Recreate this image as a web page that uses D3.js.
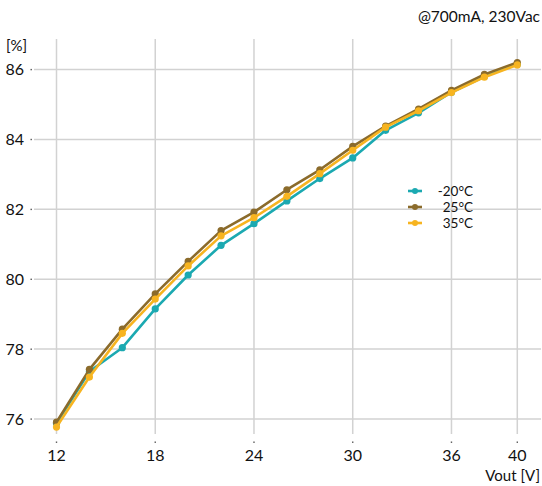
<!DOCTYPE html>
<html>
<head>
<meta charset="utf-8">
<script src="https://cdn.jsdelivr.net/npm/d3@7"></script>
<style>
  body { margin: 0; background: #fff; }
  text { font-family: Lato, "Open Sans", sans-serif; fill: #111; }
</style>
</head>
<body>
<div id="chart"></div>
<script>
"use strict";
// data
const vout = [12, 14, 16, 18, 20, 22, 24, 26, 28, 30, 32, 34, 36, 38, 40];
const effMinus20 = [75.88, 77.36, 78.04, 79.15, 80.12, 80.97, 81.59, 82.24, 82.88, 83.47, 84.26, 84.76, 85.35, 85.8, 86.15];
const eff25 = [75.91, 77.42, 78.57, 79.58, 80.51, 81.39, 81.92, 82.56, 83.13, 83.8, 84.38, 84.87, 85.4, 85.86, 86.2];
const eff35 = [75.77, 77.2, 78.45, 79.43, 80.38, 81.24, 81.76, 82.37, 83.02, 83.69, 84.35, 84.82, 85.34, 85.78, 86.13];
const seriesNames = ["-20°C", "25°C", "35°C"];
const seriesColors = ["#1ba9b1", "#8b6b2b", "#f7b420"];
const xTicks = [12, 18, 24, 30, 36, 40];
const yTicks = [76, 78, 80, 82, 84, 86];

const W = 542, H = 486;
let svg = d3.select("#chart").append("svg")
    .attr("width", W)
    .attr("height", H);

let x = d3.scaleLinear().domain([12, 40]).range([56.5, 517.3]);
let y = d3.scaleLinear().domain([76, 86]).range([419, 69.5]);

// grid
let grid = svg.append("g").attr("class", "grid");
grid.selectAll(".hline")
    .data(yTicks)
    .enter().append("line")
    .attr("x1", 34).attr("x2", 541)
    .attr("y1", d => y(d)).attr("y2", d => y(d))
    .attr("stroke", "#d2d2d2")
    .attr("stroke-width", 1.5);
grid.selectAll(".vline")
    .data(xTicks)
    .enter().append("line")
    .attr("x1", d => x(d)).attr("x2", d => x(d))
    .attr("y1", 39).attr("y2", 434)
    .attr("stroke", "#d2d2d2")
    .attr("stroke-width", 1.5);

// tick dots
grid.selectAll(".ydot")
    .data(yTicks)
    .enter().append("rect")
    .attr("x", 30.5).attr("y", d => y(d) - 0.6)
    .attr("width", 1.4).attr("height", 1.4)
    .attr("fill", "#555");
grid.selectAll(".xdot")
    .data(xTicks)
    .enter().append("rect")
    .attr("x", d => x(d) - 0.7).attr("y", 441.5)
    .attr("width", 1.4).attr("height", 1.4)
    .attr("fill", "#555");

// axis labels
svg.append("g").selectAll("text")
    .data(yTicks)
    .enter().append("text")
    .attr("x", 24)
    .attr("y", d => y(d))
    .attr("dy", "0.36em")
    .attr("text-anchor", "end")
    .style("font-size", "16px")
    .text(d => d);
svg.append("g").selectAll("text")
    .data(xTicks)
    .enter().append("text")
    .attr("x", d => x(d))
    .attr("y", 461)
    .attr("text-anchor", "middle")
    .style("font-size", "16px")
    .text(d => d);

svg.append("text")
    .attr("x", 6).attr("y", 51)
    .style("font-size", "15px")
    .text("[%]");
svg.append("text")
    .attr("x", 540).attr("y", 481)
    .attr("text-anchor", "end")
    .style("font-size", "15px")
    .text("Vout [V]");
svg.append("text")
    .attr("x", 540).attr("y", 22)
    .attr("text-anchor", "end")
    .style("font-size", "15.5px")
    .text("@700mA, 230Vac");

// series
let allSeries = [effMinus20, eff25, eff35];
let line = d3.line()
    .x((d, i) => x(vout[i]))
    .y(d => y(d));

allSeries.forEach(function (vals, k) {
    let g = svg.append("g").attr("class", "series");
    g.append("path")
        .datum(vals)
        .attr("d", line)
        .attr("fill", "none")
        .attr("stroke", seriesColors[k])
        .attr("stroke-width", 2.6)
        .attr("stroke-linejoin", "round");
    g.selectAll("circle")
        .data(vals)
        .enter().append("circle")
        .attr("cx", (d, i) => x(vout[i]))
        .attr("cy", d => y(d))
        .attr("r", 3.6)
        .attr("fill", seriesColors[k]);
});

// legend
let legend = svg.append("g").attr("class", "legend");
let rows = legend.selectAll("g")
    .data(seriesNames)
    .enter().append("g")
    .attr("transform", (d, i) => "translate(0," + (191 + i * 16) + ")");
rows.append("line")
    .attr("x1", 408).attr("x2", 422)
    .attr("stroke", (d, i) => seriesColors[i])
    .attr("stroke-width", 2.6);
rows.append("circle")
    .attr("cx", 415).attr("r", 3)
    .attr("fill", (d, i) => seriesColors[i]);
rows.append("text")
    .attr("x", 473)
    .attr("dy", "0.35em")
    .attr("text-anchor", "end")
    .style("font-size", "13.5px")
    .text(d => d);
</script>
</body>
</html>
